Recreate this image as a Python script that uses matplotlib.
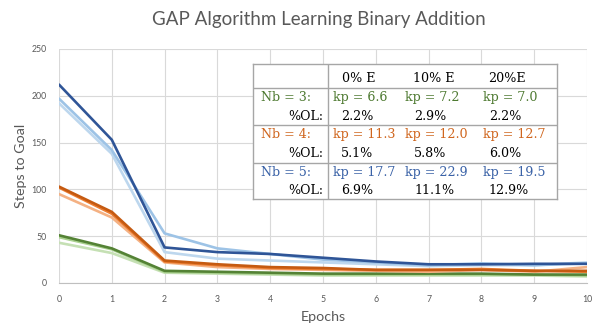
import matplotlib
matplotlib.use("Agg")
import matplotlib.pyplot as plt

epochs = list(range(11))

nb5_a = [212, 153, 38, 33, 31, 27, 23, 20, 20, 20.5, 20.5]
nb5_b = [197, 142, 53, 37, 31, 25, 22, 19, 21, 19, 21]
nb5_c = [192, 138, 33, 26, 24, 22, 20, 18, 19, 19, 22]
nb4_a = [103, 76, 24, 20, 17, 16, 14, 14, 14, 13, 13]
nb4_b = [102, 74, 23, 19, 16, 15, 14, 14, 15, 13, 12]
nb4_c = [95, 70, 22, 17, 15, 14, 13, 12, 14, 12, 17]
nb3_a = [51, 37, 13, 12, 11, 10, 10, 10, 10, 9, 9]
nb3_b = [49, 36, 12, 11, 10, 9, 9, 9, 9, 9, 8]
nb3_c = [43, 32, 11, 10, 9, 8, 8, 8, 8, 8, 7]

header = ["", "0% E", "10% E", "20%E"]
row_labels = ["Nb = 3:", "Nb = 4:", "Nb = 5:"]
kp_values = [["6.6", "7.2", "7.0"], ["11.3", "12.0", "12.7"], ["17.7", "22.9", "19.5"]]
ol_values = [["2.2%", "2.9%", "2.2%"], ["5.1%", "5.8%", "6.0%"], ["6.9%", "11.1%", "12.9%"]]

W, H = 604, 334
fig = plt.figure(figsize=(W / 100, H / 100), dpi=100)
ax = fig.add_axes([59 / W, 1 - 283 / H, (587 - 59) / W, (283 - 49) / H])

series = [
    (nb3_c, "#C5E0B4"), (nb3_b, "#A9D18E"), (nb3_a, "#548235"),
    (nb4_c, "#F4B183"), (nb4_b, "#ED7D31"), (nb4_a, "#C55A11"),
    (nb5_c, "#BDD7EE"), (nb5_b, "#9DC3E6"), (nb5_a, "#2F5597"),
]
for vals, col in series:
    ax.plot(epochs, vals, color=col, lw=1.9, solid_capstyle="round", zorder=3)

sans = "Lato"
ax.set_xlim(0, 10)
ax.set_ylim(0, 250)
ax.set_xticks(range(0, 11))
ax.set_yticks(range(0, 251, 50))
ax.grid(True, color="#D9D9D9", lw=0.8)
ax.set_axisbelow(True)
for s in ["top", "right", "left"]:
    ax.spines[s].set_visible(False)
ax.spines["bottom"].set_color("#BFBFBF")
ax.tick_params(length=0, labelsize=6.3, colors="#595959", pad=9)
for lbl in ax.get_xticklabels() + ax.get_yticklabels():
    lbl.set_family(sans)
ax.set_xlabel("Epochs", fontsize=10.3, color="#595959", labelpad=5, family=sans)
ax.set_ylabel("Steps to Goal", fontsize=10.3, color="#595959", labelpad=3, family=sans)
fig.text(319 / W, 1 - 20 / H, "GAP Algorithm Learning Binary Addition",
         ha="center", va="center", fontsize=13.5, color="#595959", family=sans)

# table overlay
tx0, tx1, ty0, ty1 = 253, 557, 64, 199
tab = fig.add_axes([tx0 / W, 1 - ty1 / H, (tx1 - tx0) / W, (ty1 - ty0) / H])
tab.set_xlim(tx0, tx1)
tab.set_ylim(ty1, ty0)
tab.set_xticks([]); tab.set_yticks([])
tab.set_facecolor("white")
for s in tab.spines.values():
    s.set_color("#A6A6A6"); s.set_linewidth(1.0)
tab.plot([328, 328], [ty0, ty1], color="#A6A6A6", lw=1.0)
for yy in [88, 125.3, 162.7]:
    tab.plot([tx0, tx1], [yy, yy], color="#A6A6A6", lw=1.0)

fs = 9.1
ff = "DejaVu Serif"
col_x = [333, 405, 483]
hdr_x = [342, 413, 488]
ol_x = [341, 414, 489]
for i, h in enumerate(header[1:]):
    tab.text(hdr_x[i], 78.3, h, ha="left", va="center", fontsize=fs, family=ff, color="black")
row_cols = ["#4E7A31", "#D0661E", "#3A62A7"]
kp_y = [97.3, 134.3, 172.3]
ol_y = [116.7, 153.3, 190.7]
for r in range(3):
    tab.text(261, kp_y[r], row_labels[r], ha="left", va="center", fontsize=fs, family=ff, color=row_cols[r])
    tab.text(323, ol_y[r], "%OL:", ha="right", va="center", fontsize=fs, family=ff, color="black")
    for c in range(3):
        tab.text(col_x[c], kp_y[r], "kp = " + kp_values[r][c], ha="left", va="center",
                 fontsize=fs, family=ff, color=row_cols[r])
        tab.text(ol_x[c], ol_y[r], ol_values[r][c], ha="left", va="center",
                 fontsize=fs, family=ff, color="black")

fig.savefig("out.png", dpi=100)
